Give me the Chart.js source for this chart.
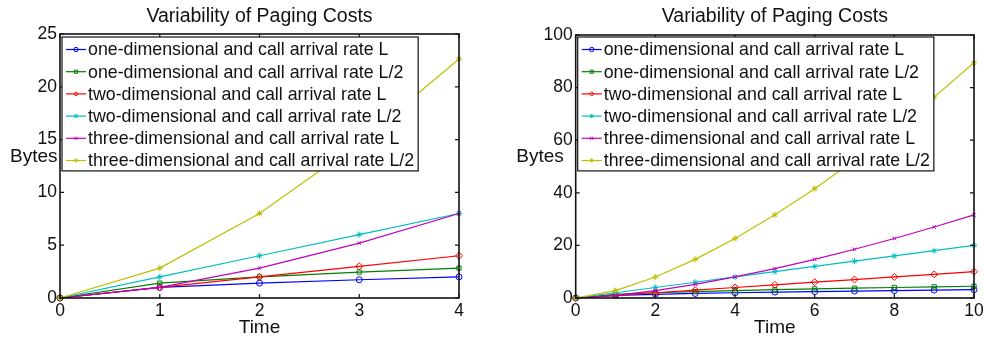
<!DOCTYPE html>
<html>
<head>
<meta charset="utf-8">
<script src="https://cdn.jsdelivr.net/npm/chart.js@4/dist/chart.umd.min.js"></script>
<style>
  html, body { margin: 0; padding: 0; background: #fff; }
  #wrap { position: relative; width: 984px; height: 341px; }
  .panel { position: absolute; top: 0; width: 492px; height: 341px; }
</style>
</head>
<body>
<div id="wrap">
  <div class="panel" style="left:0"><canvas id="costLeft"></canvas></div>
  <div class="panel" style="left:492px"><canvas id="costRight"></canvas></div>
</div>
<script>
const FONT = '"Liberation Sans", Arial, Helvetica, sans-serif';

const seriesLabels = [
  'one-dimensional and call arrival rate L',
  'one-dimensional and call arrival rate L/2',
  'two-dimensional and call arrival rate L',
  'two-dimensional and call arrival rate L/2',
  'three-dimensional and call arrival rate L',
  'three-dimensional and call arrival rate L/2'
];

const timeSteps = [0, 1, 2, 3, 4, 5, 6, 7, 8, 9, 10];
const oneDimRateL = [0, 1, 1.41, 1.73, 2, 2.24, 2.45, 2.65, 2.83, 3, 3.16];
const oneDimRateHalfL = [0, 1.41, 2, 2.45, 2.83, 3.16, 3.46, 3.74, 4, 4.24, 4.47];
const twoDimRateL = [0, 1, 2, 3, 4, 5, 6, 7, 8, 9, 10];
const twoDimRateHalfL = [0, 2, 4, 6, 8, 10, 12, 14, 16, 18, 20];
const threeDimRateL = [0, 1, 2.83, 5.2, 8, 11.18, 14.7, 18.52, 22.63, 27, 31.62];
const threeDimRateHalfL = [0, 2.83, 8, 14.7, 22.63, 31.62, 41.57, 52.38, 64, 76.37, 89.44];

const leftXTicks = [0, 1, 2, 3, 4];
const leftYTicks = [0, 5, 10, 15, 20, 25];
const rightXTicks = [0, 2, 4, 6, 8, 10];
const rightYTicks = [0, 20, 40, 60, 80, 100];

const seriesValues = [oneDimRateL, oneDimRateHalfL, twoDimRateL, twoDimRateHalfL, threeDimRateL, threeDimRateHalfL];
const seriesColors = ['#0000ff', '#008000', '#ff0000', '#00bfbf', '#bf00bf', '#bfbf00'];
const seriesMarkers = ['circle', 'rect', 'rectRot', 'star', 'crossRot', 'star'];
const markerRadius = [3, 3, 3.5, 3, 2.5, 3];

function buildDatasets(count) {
  return seriesLabels.map((label, i) => ({
    label,
    data: timeSteps.slice(0, count).map((t, k) => ({ x: t, y: seriesValues[i][k] })),
    borderColor: seriesColors[i],
    backgroundColor: 'rgba(0,0,0,0)',
    borderWidth: 1.2,
    pointStyle: seriesMarkers[i],
    pointRadius: markerRadius[i],
    pointBorderWidth: 1,
    pointBorderColor: seriesColors[i],
    pointBackgroundColor: 'rgba(0,0,0,0)',
    tension: 0,
    clip: false,
    order: seriesLabels.length - i
  }));
}

// box, inward ticks, title, y label and the boxed legend
const paperFrame = {
  id: 'paperFrame',
  afterDatasetsDraw(chart, args, opts) {
    const { ctx, chartArea: a, scales } = chart;
    ctx.save();
    ctx.strokeStyle = '#111';
    ctx.lineWidth = 1.6;
    ctx.strokeRect(a.left, a.top, a.right - a.left, a.bottom - a.top);
    ctx.lineWidth = 1.2;
    ctx.beginPath();
    opts.xTicks.forEach(v => {
      const px = scales.x.getPixelForValue(v);
      ctx.moveTo(px, a.bottom); ctx.lineTo(px, a.bottom - 4);
      ctx.moveTo(px, a.top); ctx.lineTo(px, a.top + 4);
    });
    opts.yTicks.forEach(v => {
      const py = scales.y.getPixelForValue(v);
      ctx.moveTo(a.left, py); ctx.lineTo(a.left + 4, py);
      ctx.moveTo(a.right, py); ctx.lineTo(a.right - 4, py);
    });
    ctx.stroke();

    ctx.fillStyle = '#111';
    ctx.textBaseline = 'alphabetic';
    ctx.font = '19.5px ' + FONT;
    ctx.textAlign = 'center';
    ctx.fillText(opts.title, (a.left + a.right) / 2, 21.7);
    ctx.font = '19px ' + FONT;
    ctx.textAlign = 'left';
    ctx.fillText('Bytes', opts.bytesX, 161.7);
    ctx.restore();
  },
  afterDraw(chart, args, opts) {
    const { ctx, chartArea: a } = chart;
    const sets = chart.data.datasets;
    ctx.save();
    ctx.font = '17.8px ' + FONT;
    const textW = Math.max(...sets.map(d => ctx.measureText(d.label).width));
    const bx = a.left + 2, by = a.top + opts.legendTop;
    const bw = textW + 30, rowH = 22.2, bh = rowH * sets.length + 0.7;
    ctx.fillStyle = '#fff';
    ctx.fillRect(bx, by, bw, bh);
    ctx.strokeStyle = '#111';
    ctx.lineWidth = 1.2;
    ctx.strokeRect(bx, by, bw, bh);
    sets.forEach((d, i) => {
      const cy = by + 12.5 + i * rowH;
      ctx.strokeStyle = d.borderColor;
      ctx.lineWidth = 1.2;
      ctx.beginPath();
      ctx.moveTo(bx + 4, cy); ctx.lineTo(bx + 24, cy);
      ctx.stroke();
      ctx.fillStyle = 'rgba(0,0,0,0)';
      ctx.lineWidth = 1;
      Chart.helpers.drawPoint(ctx, { pointStyle: d.pointStyle, radius: 2.2, borderWidth: 1, rotation: 0 }, bx + 14, cy);
      ctx.fillStyle = '#111';
      ctx.textAlign = 'left';
      ctx.textBaseline = 'middle';
      ctx.fillText(d.label, bx + 26, cy + 1);
    });
    ctx.restore();
  }
};

function makeChart(id, count, xTicks, yTicks, layout) {
  const tickFont = { family: FONT, size: 17.5 };
  return new Chart(document.getElementById(id), {
    type: 'line',
    data: { datasets: buildDatasets(count) },
    plugins: [paperFrame],
    options: {
      responsive: true,
      maintainAspectRatio: false,
      animation: false,
      layout: { padding: { left: 0, right: layout.padRight, top: layout.padTop, bottom: 0 } },
      plugins: {
        legend: { display: false },
        tooltip: { enabled: false },
        paperFrame: {
          title: 'Variability of Paging Costs',
          xTicks, yTicks,
          bytesX: layout.bytesX,
          legendTop: layout.legendTop
        }
      },
      scales: {
        x: {
          type: 'linear',
          min: xTicks[0],
          max: xTicks[xTicks.length - 1],
          afterBuildTicks: s => { s.ticks = xTicks.map(v => ({ value: v })); },
          afterFit: s => { s.height = 43; s.paddingLeft = 0; s.paddingRight = 0; },
          grid: { display: false, drawTicks: false },
          border: { display: false },
          ticks: { font: tickFont, color: '#111', padding: 3, maxRotation: 0, autoSkip: false },
          title: { display: true, text: 'Time', font: { family: FONT, size: 19 }, color: '#111', padding: { top: 0, bottom: 2 } }
        },
        y: {
          type: 'linear',
          min: yTicks[0],
          max: yTicks[yTicks.length - 1],
          afterBuildTicks: s => { s.ticks = yTicks.map(v => ({ value: v })); },
          afterFit: s => { s.width = layout.yWidth; s.paddingTop = 0; s.paddingBottom = 0; },
          grid: { display: false, drawTicks: false },
          border: { display: false },
          ticks: { font: tickFont, color: '#111', padding: 3, autoSkip: false }
        }
      }
    }
  });
}

makeChart('costLeft', 5, leftXTicks, leftYTicks, { padRight: 33, padTop: 34, yWidth: 60, bytesX: 10, legendTop: 3 });
makeChart('costRight', 11, rightXTicks, rightYTicks, { padRight: 10, padTop: 35, yWidth: 83.7, bytesX: 24.3, legendTop: 2 });
</script>
</body>
</html>
